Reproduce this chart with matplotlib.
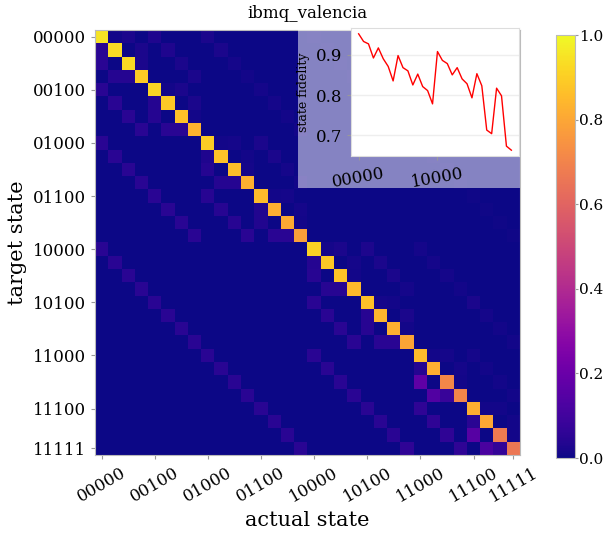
import numpy as np
import matplotlib
matplotlib.use('Agg')
import matplotlib.pyplot as plt
from matplotlib.patches import Rectangle

plt.rcParams['font.family'] = 'DejaVu Serif'

n_states = 32
states = [format(i, '05b') for i in range(n_states)]

# state fidelity (diagonal)
fidelity = [0.952, 0.933, 0.927, 0.892, 0.917, 0.890, 0.871, 0.835,
            0.898, 0.868, 0.860, 0.825, 0.852, 0.821, 0.811, 0.778,
            0.908, 0.886, 0.878, 0.850, 0.868, 0.840, 0.828, 0.793,
            0.853, 0.823, 0.713, 0.704, 0.817, 0.798, 0.673, 0.663]

# probability of reading target i as i with one bit flipped
# columns: bit4, bit3, bit2, bit1, bit0
flips = [
    [0.004, 0.020, 0.030, 0.020, 0.010],
    [0.004, 0.020, 0.030, 0.020, 0.050],
    [0.004, 0.015, 0.020, 0.050, 0.020],
    [0.004, 0.010, 0.020, 0.040, 0.040],
    [0.004, 0.015, 0.050, 0.020, 0.010],
    [0.004, 0.015, 0.050, 0.020, 0.040],
    [0.004, 0.010, 0.050, 0.040, 0.010],
    [0.004, 0.010, 0.050, 0.050, 0.050],
    [0.004, 0.050, 0.020, 0.015, 0.010],
    [0.004, 0.050, 0.020, 0.010, 0.030],
    [0.004, 0.050, 0.015, 0.040, 0.015],
    [0.004, 0.050, 0.010, 0.040, 0.040],
    [0.004, 0.050, 0.045, 0.015, 0.010],
    [0.004, 0.050, 0.045, 0.015, 0.035],
    [0.004, 0.050, 0.045, 0.035, 0.010],
    [0.004, 0.050, 0.050, 0.050, 0.050],
    [0.050, 0.015, 0.025, 0.020, 0.015],
    [0.050, 0.015, 0.020, 0.015, 0.040],
    [0.050, 0.015, 0.020, 0.045, 0.010],
    [0.050, 0.010, 0.015, 0.045, 0.045],
    [0.050, 0.020, 0.050, 0.010, 0.015],
    [0.050, 0.015, 0.050, 0.020, 0.045],
    [0.050, 0.010, 0.050, 0.045, 0.010],
    [0.050, 0.010, 0.050, 0.050, 0.050],
    [0.050, 0.050, 0.015, 0.015, 0.010],
    [0.050, 0.050, 0.010, 0.015, 0.040],
    [0.050, 0.050, 0.010, 0.170, 0.010],
    [0.050, 0.050, 0.010, 0.140, 0.080],
    [0.050, 0.050, 0.060, 0.010, 0.010],
    [0.050, 0.050, 0.060, 0.010, 0.050],
    [0.050, 0.050, 0.060, 0.150, 0.010],
    [0.050, 0.060, 0.060, 0.120, 0.070],
]
bits = [16, 8, 4, 2, 1]

matrix = np.zeros((n_states, n_states))
for i in range(n_states):
    matrix[i, i] = fidelity[i]
    for k, b in enumerate(bits):
        matrix[i, i ^ b] = flips[i][k]

tick_pos = [0, 4, 8, 12, 16, 20, 24, 28, 31]
tick_lab = [states[t] for t in tick_pos]

fig = plt.figure(figsize=(6.05, 5.33), dpi=100)
ax = fig.add_axes([95/605, 1-455/533, 425/605, 425/533])
im = ax.imshow(matrix, cmap='plasma', vmin=0, vmax=1, aspect='auto')
ax.set_xticks(tick_pos)
ax.set_xticklabels(tick_lab, rotation=30, fontsize=12)
ax.set_yticks(tick_pos)
ax.set_yticklabels(tick_lab, fontsize=12)
ax.tick_params(color='#999999', length=3)
for s in ax.spines.values():
    s.set_color('#bbbbbb')
ax.set_xlabel('actual state', fontsize=15)
ax.set_ylabel('target state', fontsize=15)
ax.set_title('ibmq_valencia', fontsize=12, pad=9)

cax = fig.add_axes([556/605, 1-458/533, 19/605, 423/533])
cb = fig.colorbar(im, cax=cax)
cb.ax.tick_params(labelsize=11, color='#999999', length=2, pad=1)
cb.outline.set_edgecolor('#bbbbbb')

# translucent box behind the inset
fig.patches.append(Rectangle((298/605, 1-188/533), 222/605, 160/533,
                             transform=fig.transFigure, facecolor='white',
                             alpha=0.5, edgecolor='none', zorder=2))

inset = fig.add_axes([351/605, 1-156/533, 168/605, 128/533], zorder=3)
inset.plot(range(n_states), np.diag(matrix), color='red', lw=1)
inset.set_yticks([0.7, 0.8, 0.9])
inset.tick_params(labelsize=12, color='#999999', length=3)
inset.set_xticks([0, 16])
inset.set_xticklabels([states[0], states[16]], rotation=10)
inset.set_ylabel('state fidelity', fontsize=9)
inset.yaxis.grid(True, color='#eeeeee', lw=1)
inset.set_axisbelow(True)
for s in inset.spines.values():
    s.set_color('#dddddd')

fig.savefig('out.png', dpi=100)
